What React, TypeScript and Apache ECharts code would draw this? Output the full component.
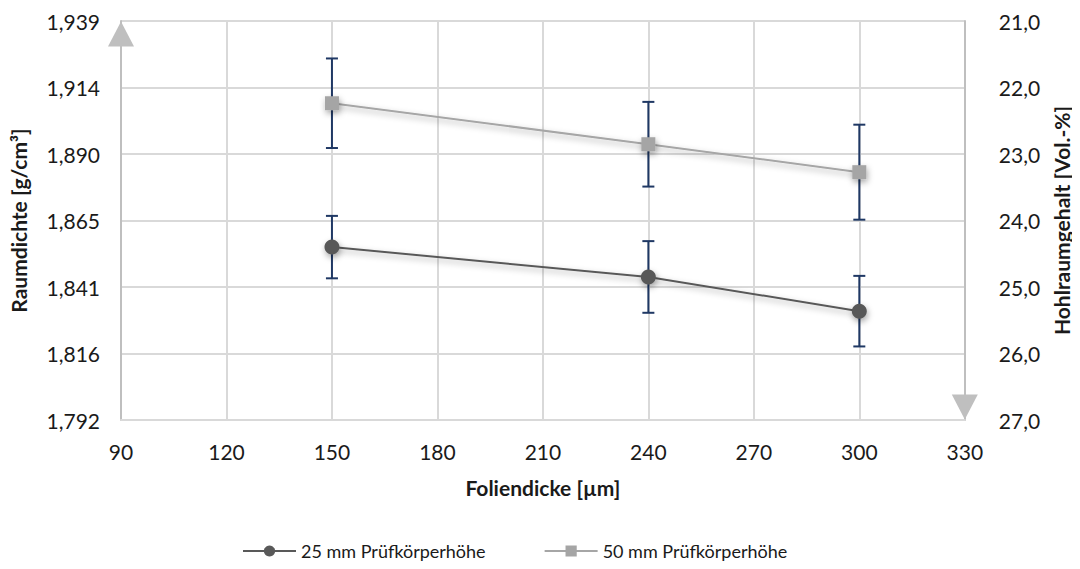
import React, { useEffect, useRef } from "react";
import * as echarts from "echarts";

const xValues = [150, 240, 300];
const series25 = [1.8557, 1.8447, 1.8321];
const err25 = [0.0115, 0.0132, 0.013];
const series50 = [1.9087, 1.8936, 1.8833];
const err50 = [0.0165, 0.0156, 0.0175];
const leftTickValues = [1.792, 1.8165, 1.841, 1.8655, 1.89, 1.9145, 1.939];
const leftTickLabels = ["1,792", "1,816", "1,841", "1,865", "1,890", "1,914", "1,939"];
const seriesNames = ["25 mm Prüfkörperhöhe", "50 mm Prüfkörperhöhe"];

const FONT = "Lato, 'Noto Sans', sans-serif";
const TXT = "#1a1a1a";

export default function App() {
  const ref = useRef<HTMLDivElement>(null);
  useEffect(() => {
    if (!ref.current) return;
    const chart = echarts.init(ref.current, undefined, { renderer: "svg" });
    const errData = (vals: number[], errs: number[]) =>
      xValues.map((x, i) => [x, vals[i] - errs[i], vals[i] + errs[i]]);
    const renderErr = (params: any, api: any) => {
      const x = api.value(0);
      const lo = api.coord([x, api.value(1)]);
      const hi = api.coord([x, api.value(2)]);
      const w = 6;
      const style = { stroke: "#1f3864", lineWidth: 2 };
      return {
        type: "group",
        children: [
          { type: "line", shape: { x1: lo[0], y1: lo[1], x2: hi[0], y2: hi[1] }, style },
          { type: "line", shape: { x1: lo[0] - w, y1: lo[1], x2: lo[0] + w, y2: lo[1] }, style },
          { type: "line", shape: { x1: hi[0] - w, y1: hi[1], x2: hi[0] + w, y2: hi[1] }, style },
        ],
      };
    };
    const shadow = { shadowBlur: 6, shadowColor: "rgba(0,0,0,0.35)", shadowOffsetX: 1, shadowOffsetY: 3 };
    chart.setOption({
      animation: false,
      textStyle: { fontFamily: FONT },
      grid: { left: 121, right: 109, top: 21, bottom: 149, containLabel: false },
      legend: {
        bottom: 4,
        left: 237,
        itemWidth: 53,
        itemHeight: 14,
        itemGap: 58,
        textStyle: { fontSize: 18, color: TXT, fontFamily: FONT },
        data: seriesNames,
      },
      xAxis: {
        type: "value",
        min: 90,
        max: 330,
        interval: 30,
        name: "Foliendicke [µm]",
        nameLocation: "middle",
        nameGap: 57,
        nameTextStyle: { fontSize: 21, fontWeight: "bold", color: TXT },
        axisLine: { show: true, lineStyle: { color: "#d9d9d9", width: 2 } },
        axisTick: { show: false },
        axisLabel: { fontSize: 21, color: TXT, margin: 21 },
        splitLine: { show: true, lineStyle: { color: "#d9d9d9", width: 2 } },
      },
      yAxis: [
        {
          type: "value",
          min: 1.792,
          max: 1.939,
          position: "left",
          name: "Raumdichte [g/cm³]",
          nameLocation: "middle",
          nameGap: 92,
          nameTextStyle: { fontSize: 21, fontWeight: "bold", color: TXT },
          axisLine: {
            show: true,
            lineStyle: { color: "#bfbfbf", width: 2 },
            symbol: ["none", "triangle"],
            symbolSize: [26, 25],
            symbolOffset: [0, -13],
          },
          axisTick: { show: false, customValues: leftTickValues },
          axisLabel: {
            fontSize: 21,
            color: TXT,
            margin: 21,
            customValues: leftTickValues,
            formatter: (v: number) => {
              const i = leftTickValues.findIndex((t) => Math.abs(t - v) < 1e-6);
              return i >= 0 ? leftTickLabels[i] : "";
            },
          },
          splitLine: { show: false },
        },
        {
          type: "value",
          min: 21,
          max: 27,
          interval: 1,
          inverse: true,
          position: "right",
          name: "Hohlraumgehalt [Vol.-%]",
          nameLocation: "middle",
          nameGap: 80,
          nameTextStyle: { fontSize: 21, fontWeight: "bold", color: TXT },
          axisLine: {
            show: true,
            lineStyle: { color: "#bfbfbf", width: 2 },
            symbol: ["triangle", "none"],
            symbolSize: [26, 25],
            symbolOffset: [13, 0],
          },
          axisTick: { show: false },
          axisLabel: {
            fontSize: 21,
            color: TXT,
            margin: 34,
            formatter: (v: number) => v.toFixed(1).replace(".", ","),
          },
          splitLine: { show: true, lineStyle: { color: "#d9d9d9", width: 2 } },
        },
      ],
      series: [
        {
          type: "custom",
          name: "err25",
          yAxisIndex: 0,
          renderItem: renderErr,
          data: errData(series25, err25),
          z: 3,
        },
        {
          type: "custom",
          name: "err50",
          yAxisIndex: 0,
          renderItem: renderErr,
          data: errData(series50, err50),
          z: 3,
        },
        {
          type: "line",
          name: seriesNames[0],
          yAxisIndex: 0,
          data: xValues.map((x, i) => [x, series25[i]]),
          symbol: "circle",
          symbolSize: 15,
          lineStyle: { color: "#595959", width: 2, ...shadow },
          itemStyle: { color: "#595959", ...shadow },
          z: 5,
        },
        {
          type: "line",
          name: seriesNames[1],
          yAxisIndex: 0,
          data: xValues.map((x, i) => [x, series50[i]]),
          symbol: "rect",
          symbolSize: 14,
          lineStyle: { color: "#a6a6a6", width: 2, ...shadow },
          itemStyle: { color: "#a5a5a5", ...shadow },
          z: 5,
        },
      ],
    });
    return () => chart.dispose();
  }, []);
  return <div ref={ref} style={{ width: 1080, height: 569, margin: -8 }} />;
}
